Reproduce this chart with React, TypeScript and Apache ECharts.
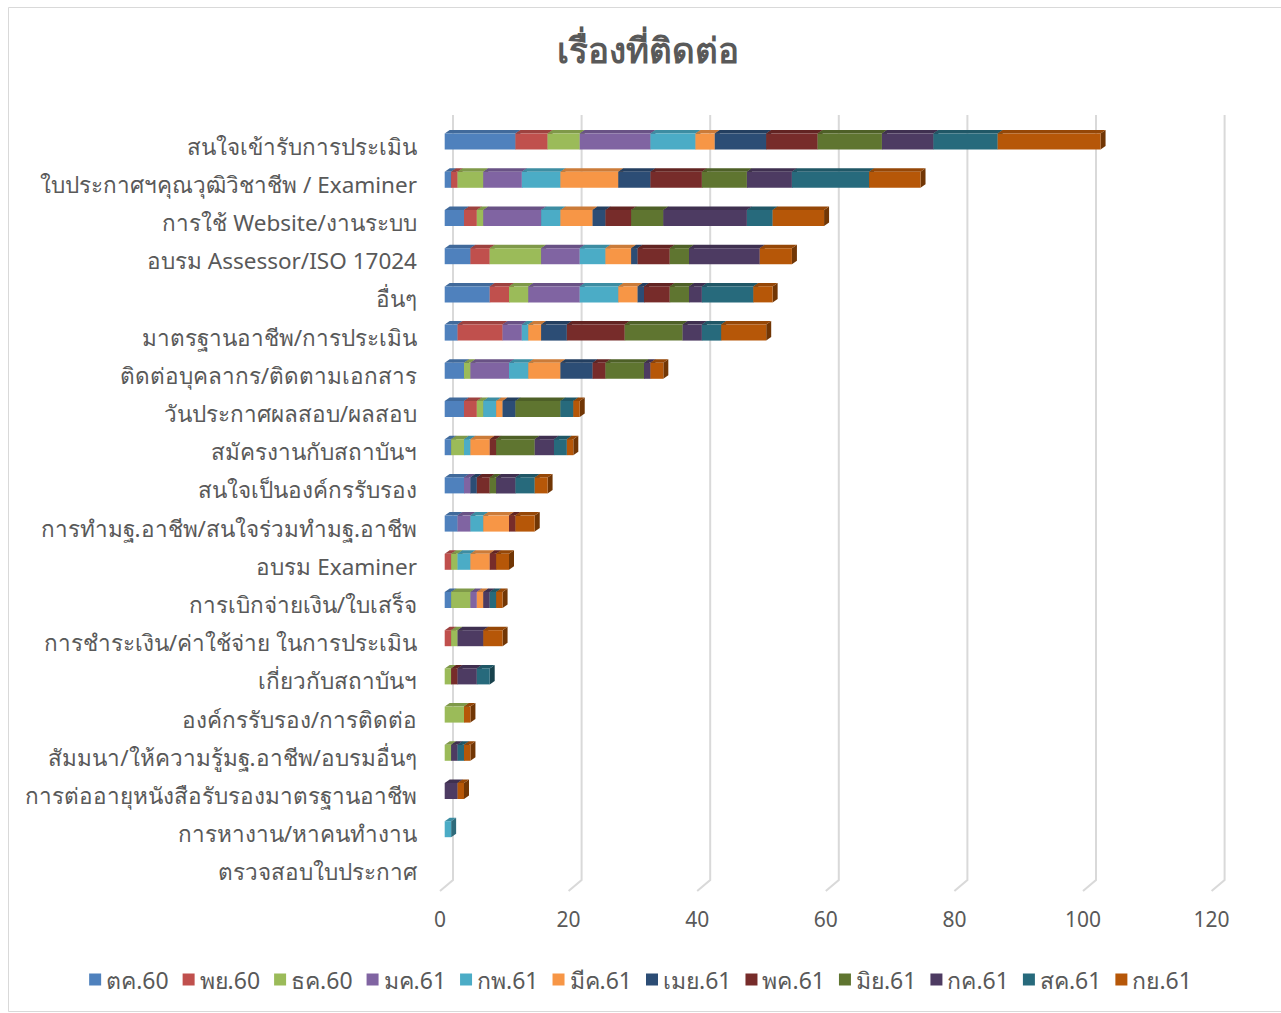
import React, { useEffect, useRef } from "react";
import * as echarts from "echarts";

const categories = [
  "สนใจเข้ารับการประเมิน",
  "ใบประกาศฯคุณวุฒิวิชาชีพ / Examiner",
  "การใช้ Website/งานระบบ",
  "อบรม Assessor/ISO 17024",
  "อื่นๆ",
  "มาตรฐานอาชีพ/การประเมิน",
  "ติดต่อบุคลากร/ติดตามเอกสาร",
  "วันประกาศผลสอบ/ผลสอบ",
  "สมัครงานกับสถาบันฯ",
  "สนใจเป็นองค์กรรับรอง",
  "การทำมฐ.อาชีพ/สนใจร่วมทำมฐ.อาชีพ",
  "อบรม Examiner",
  "การเบิกจ่ายเงิน/ใบเสร็จ",
  "การชำระเงิน/ค่าใช้จ่าย ในการประเมิน",
  "เกี่ยวกับสถาบันฯ",
  "องค์กรรับรอง/การติดต่อ",
  "สัมมนา/ให้ความรู้มฐ.อาชีพ/อบรมอื่นๆ",
  "การต่ออายุหนังสือรับรองมาตรฐานอาชีพ",
  "การหางาน/หาคนทำงาน",
  "ตรวจสอบใบประกาศ",
];

const months = ["ตค.60", "พย.60", "ธค.60", "มค.61", "กพ.61", "มีค.61", "เมย.61", "พค.61", "มิย.61", "กค.61", "สค.61", "กย.61"];

const oct60 = [11, 1, 3, 4, 7, 2, 3, 3, 1, 3, 2, 0, 1, 0, 0, 0, 0, 0, 0, 0];
const nov60 = [5, 1, 2, 3, 3, 7, 0, 2, 0, 0, 0, 1, 0, 1, 0, 0, 0, 0, 0, 0];
const dec60 = [5, 4, 1, 8, 3, 0, 1, 1, 2, 0, 0, 1, 3, 1, 1, 3, 1, 0, 0, 0];
const jan61 = [11, 6, 9, 6, 8, 3, 6, 0, 0, 1, 2, 0, 1, 0, 0, 0, 0, 0, 0, 0];
const feb61 = [7, 6, 3, 4, 6, 1, 3, 2, 1, 0, 2, 2, 0, 0, 0, 0, 0, 0, 1, 0];
const mar61 = [3, 9, 5, 4, 3, 2, 5, 1, 3, 0, 4, 3, 1, 0, 0, 0, 0, 0, 0, 0];
const apr61 = [8, 5, 2, 1, 1, 4, 5, 2, 0, 1, 0, 0, 0, 0, 0, 0, 0, 0, 0, 0];
const may61 = [8, 8, 4, 5, 4, 9, 2, 0, 1, 2, 1, 1, 0, 0, 1, 0, 0, 0, 0, 0];
const jun61 = [10, 7, 5, 3, 3, 9, 6, 7, 6, 1, 0, 0, 0, 0, 0, 0, 0, 0, 0, 0];
const jul61 = [8, 7, 13, 11, 2, 3, 1, 0, 3, 3, 0, 0, 1, 4, 3, 0, 1, 2, 0, 0];
const aug61 = [10, 12, 4, 0, 8, 3, 0, 2, 2, 3, 0, 0, 1, 0, 2, 0, 1, 0, 0, 0];
const sep61 = [16, 8, 8, 5, 3, 7, 2, 1, 1, 2, 3, 2, 1, 3, 0, 1, 1, 1, 0, 0];

const seriesValues = [oct60, nov60, dec60, jan61, feb61, mar61, apr61, may61, jun61, jul61, aug61, sep61];

const palette = ["#4F81BD", "#C0504D", "#9BBB59", "#8064A2", "#4BACC6", "#F79646", "#2C4D75", "#772C2A", "#5F7530", "#4D3B62", "#276A7C", "#B65708"];

const xTicks = [0, 20, 40, 60, 80, 100, 120];

const FONT = "'Noto Sans', 'DejaVu Sans', sans-serif";
const TXT = "#595959";

function shade(hex: string, f: number) {
  const n = parseInt(hex.slice(1), 16);
  const r = Math.round(((n >> 16) & 255) * f);
  const g = Math.round(((n >> 8) & 255) * f);
  const b = Math.round((n & 255) * f);
  return `rgb(${r},${g},${b})`;
}

export default function App() {
  const ref = useRef<HTMLDivElement>(null);
  useEffect(() => {
    if (!ref.current) return;
    const chart = echarts.init(ref.current, undefined, { renderer: "svg" });

    const cum = categories.map(() => 0);
    const barSeries = seriesValues.map((vals, m) => {
      const data: number[][] = [];
      vals.forEach((v, i) => {
        const s = cum[i];
        const e = s + v;
        cum[i] = e;
        if (v > 0) data.push([s, e, i]);
      });
      return {
        type: "custom",
        name: months[m],
        coordinateSystem: "cartesian2d",
        encode: { x: [0, 1], y: 2 },
        itemStyle: { color: palette[m] },
        data,
        z: 3,
        renderItem: (params: any, api: any) => {
          const p0 = api.coord([api.value(0), api.value(2)]);
          const p1 = api.coord([api.value(1), api.value(2)]);
          const off = 4.7;
          const x0 = p0[0] + off;
          const x1 = p1[0] + off;
          const yc = p0[1] - 4.5;
          const h = 16;
          const top = yc - h / 2;
          const bot = yc + h / 2;
          const dx = 5;
          const dy = 3.5;
          const col = palette[m];
          const topCol = shade(col, 0.82);
          const sideCol = shade(col, 0.62);
          return {
            type: "group",
            children: [
              { type: "polygon", shape: { points: [[x1, top], [x1 + dx, top - dy], [x1 + dx, bot - dy], [x1, bot]] }, style: { fill: sideCol } },
              { type: "polygon", shape: { points: [[x0, top], [x0 + dx, top - dy], [x1 + dx, top - dy], [x1, top]] }, style: { fill: topCol } },
              { type: "rect", shape: { x: x0, y: top, width: x1 - x0, height: h }, style: { fill: col } },
            ],
          };
        },
      };
    });

    const gridSeries = {
      type: "custom",
      name: "grid",
      coordinateSystem: "cartesian2d",
      encode: { x: 0, y: 1 },
      silent: true,
      z: 1,
      data: xTicks.map((t) => [t, 0]),
      renderItem: (params: any, api: any) => {
        const p = api.coord([api.value(0), 0]);
        const cs = params.coordSys;
        const x = p[0];
        const topY = cs.y - 12;
        const floorY = cs.y + cs.height - 11;
        return {
          type: "polyline",
          shape: { points: [[x + 13, topY], [x + 13, floorY], [x, floorY + 11]] },
          style: { stroke: "#d9d9d9", lineWidth: 2, fill: null },
        };
      },
    };

    chart.setOption({
      animation: false,
      color: palette,
      title: {
        text: "เรื่องที่ติดต่อ",
        left: 643,
        textAlign: "center",
        top: 27,
        textStyle: { fontSize: 35, fontWeight: "bold", color: TXT, fontFamily: FONT },
      },
      graphic: [
        {
          type: "rect",
          shape: { x: 8.5, y: 7.5, width: 1300, height: 1004 },
          style: { fill: "none", stroke: "#d9d9d9", lineWidth: 1 },
          silent: true,
        },
      ],
      legend: {
        data: months,
        bottom: 17,
        left: "center",
        icon: "rect",
        itemWidth: 12,
        itemHeight: 12,
        itemGap: 14,
        textStyle: { fontSize: 23, color: TXT, fontFamily: FONT },
      },
      grid: { left: 440, top: 127, width: 771.6, height: 764, containLabel: false },
      xAxis: {
        type: "value",
        min: 0,
        max: 120,
        interval: 20,
        splitLine: { show: false },
        axisLine: { show: false },
        axisTick: { show: false },
        axisLabel: { fontSize: 21, color: TXT, fontFamily: FONT, margin: 17 },
      },
      yAxis: {
        type: "category",
        inverse: true,
        data: categories,
        axisLine: { show: false },
        axisTick: { show: false },
        splitLine: { show: false },
        axisLabel: { fontSize: 22.5, color: TXT, fontFamily: FONT, margin: 23 },
      },
      series: [gridSeries, ...barSeries],
    });
    return () => chart.dispose();
  }, []);
  return <div ref={ref} style={{ position: "fixed", left: 0, top: 0, width: 1281, height: 1013, background: "#fff" }} />;
}
